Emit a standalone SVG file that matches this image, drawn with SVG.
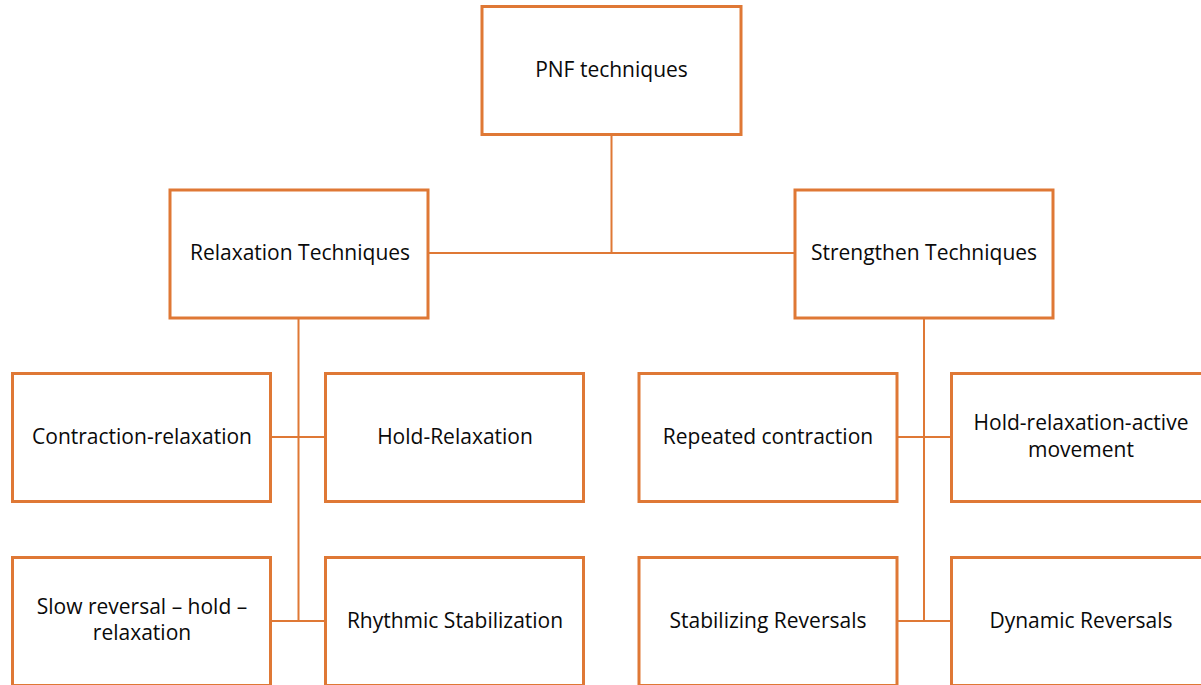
<svg xmlns="http://www.w3.org/2000/svg" width="1201" height="685" viewBox="0 0 1201 685">
<style>
.box{fill:#fff;stroke:#DF7835;stroke-width:3}
.con{stroke:#DF7835;stroke-width:2;fill:none}
text{font-family:"Open Sans","Noto Sans","Liberation Sans",sans-serif;font-size:21px;fill:#0a0a0a;text-anchor:middle}
</style>
<rect width="1201" height="685" fill="#fff"/>
<g id="connectors">
<path class="con" d="M611.5,135 V253 M428,253 H795"/>
<path class="con" d="M298.5,318 V621 M271,437 H325 M271,621 H325"/>
<path class="con" d="M924,318 V621 M897,437 H951 M897,621 H951"/>
</g>
<g id="pnf"><rect class="box" x="482" y="6.5" width="259" height="128"/><text x="611.5" y="77">PNF techniques</text></g>
<g id="relaxation"><rect class="box" x="170" y="190" width="258" height="128"/><text x="300" y="260">Relaxation Techniques</text></g>
<g id="strengthen"><rect class="box" x="795" y="190" width="258" height="128"/><text x="924" y="260">Strengthen Techniques</text></g>
<g id="contraction-relaxation"><rect class="box" x="12.5" y="373.5" width="258" height="128"/><text x="142" y="444">Contraction-relaxation</text></g>
<g id="hold-relaxation"><rect class="box" x="325.5" y="373.5" width="258" height="128"/><text x="455" y="444">Hold-Relaxation</text></g>
<g id="repeated-contraction"><rect class="box" x="639" y="373.5" width="258" height="128"/><text x="768" y="444">Repeated contraction</text></g>
<g id="hold-relaxation-active"><rect class="box" x="951.5" y="373.5" width="258" height="128"/><text x="1081" y="430">Hold-relaxation-active</text><text x="1081" y="457">movement</text></g>
<g id="slow-reversal"><rect class="box" x="12.5" y="557.5" width="258" height="128"/><text x="142" y="614">Slow reversal – hold –</text><text x="142" y="640">relaxation</text></g>
<g id="rhythmic-stabilization"><rect class="box" x="325.5" y="557.5" width="258" height="128"/><text x="455" y="628">Rhythmic Stabilization</text></g>
<g id="stabilizing-reversals"><rect class="box" x="639" y="557.5" width="258" height="128"/><text x="768" y="628">Stabilizing Reversals</text></g>
<g id="dynamic-reversals"><rect class="box" x="951.5" y="557.5" width="258" height="128"/><text x="1081" y="628">Dynamic Reversals</text></g>
</svg>
